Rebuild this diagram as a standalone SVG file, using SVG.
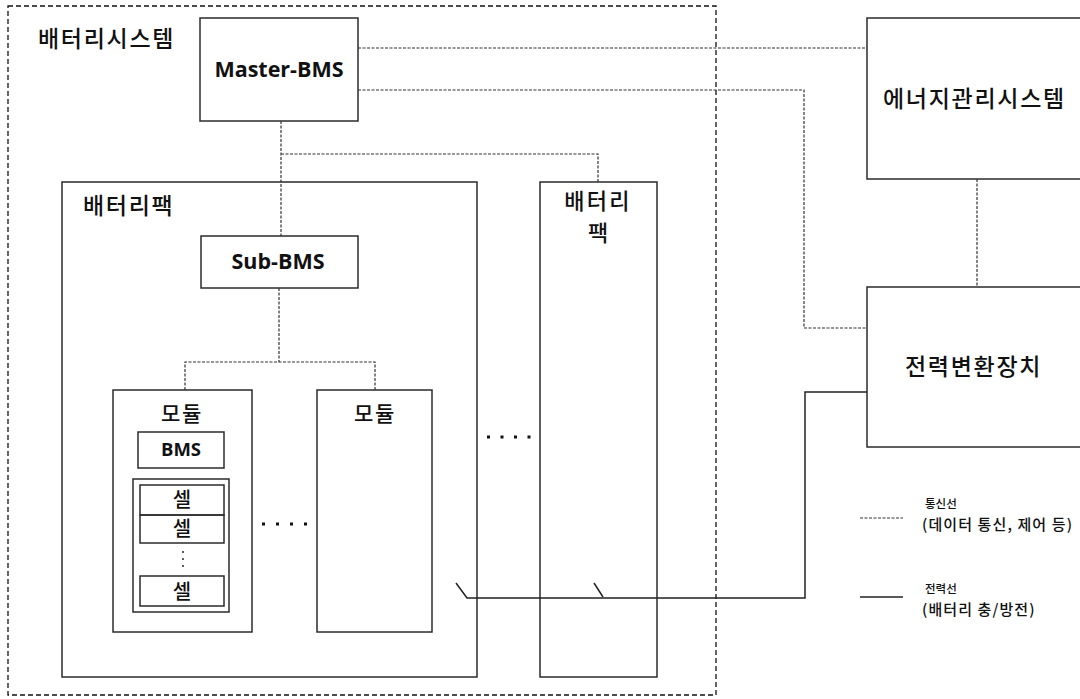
<svg xmlns="http://www.w3.org/2000/svg" width="1080" height="699" viewBox="0 0 1080 699">
<style>
.box{fill:none;stroke:#2b2b2b;stroke-width:1.5}
.outer{fill:none;stroke:#111;stroke-width:1.3;stroke-dasharray:5 3}
.comm{fill:none;stroke:#333;stroke-width:1.2;stroke-dasharray:3 1.5}
.pow{fill:none;stroke:#222;stroke-width:1.5}
.kr{font-family:"Noto Sans CJK KR","Noto Sans",sans-serif;font-weight:500;fill:#111;dominant-baseline:central}
.lbl{font-size:23px;letter-spacing:1.7px}
.en{font-family:"Open Sans","Noto Sans",sans-serif;font-weight:700;fill:#111;text-anchor:middle}
.lg1{font-size:11.5px}
.lg2{font-size:15px;letter-spacing:1.1px}
.dot{fill:#111}
</style>
<rect width="1080" height="699" fill="#fff"/>
<g id="battery-system">
<rect class="outer" x="8" y="6" width="708" height="689"/>
<text class="kr lbl" x="38" y="36.5">배터리시스템</text>
</g>
<g id="master-bms">
<rect class="box" x="200" y="18" width="158" height="103"/>
<text class="en" x="279" y="77" font-size="21.5">Master-BMS</text>
</g>
<g id="ems">
<rect class="box" x="867" y="18" width="225" height="161"/>
<text class="kr lbl" x="883" y="97">에너지관리시스템</text>
</g>
<g id="pcs">
<rect class="box" x="867" y="287" width="225" height="160"/>
<text class="kr lbl" x="905" y="365">전력변환장치</text>
</g>
<g id="battery-pack-1">
<rect class="box" x="62" y="182" width="415" height="495"/>
<text class="kr lbl" x="83" y="204">배터리팩</text>
</g>
<g id="sub-bms">
<rect class="box" x="201" y="236" width="157" height="52"/>
<text class="en" x="278" y="269" font-size="21.5">Sub-BMS</text>
</g>
<g id="module-1">
<rect class="box" x="113" y="390" width="139" height="242"/>
<text class="kr" x="182" y="412" font-size="21" letter-spacing="1.6" text-anchor="middle">모듈</text>
</g>
<g id="module-bms">
<rect class="box" x="138" y="432" width="86" height="36"/>
<text class="en" x="181" y="456" font-size="18.5">BMS</text>
</g>
<g id="cells">
<rect class="box" x="133" y="479" width="96" height="133"/>
<rect class="box" x="140" y="485" width="84" height="30"/>
<rect class="box" x="140" y="515" width="84" height="28"/>
<rect class="box" x="140" y="576" width="84" height="30"/>
<text class="kr" x="182" y="498" font-size="20" text-anchor="middle">셀</text>
<text class="kr" x="182" y="527" font-size="20" text-anchor="middle">셀</text>
<text class="kr" x="182" y="590" font-size="20" text-anchor="middle">셀</text>
<circle class="dot" cx="183" cy="552" r="0.9"/>
<circle class="dot" cx="183" cy="559" r="0.9"/>
<circle class="dot" cx="183" cy="566" r="0.9"/>
</g>
<g id="module-dots">
<rect class="dot" x="262" y="522.5" width="3" height="3"/>
<rect class="dot" x="276" y="522.5" width="3" height="3"/>
<rect class="dot" x="290" y="522.5" width="3" height="3"/>
<rect class="dot" x="304" y="522.5" width="3" height="3"/>
</g>
<g id="module-2">
<rect class="box" x="317" y="390" width="115" height="242"/>
<text class="kr" x="375" y="412" font-size="21" letter-spacing="1.6" text-anchor="middle">모듈</text>
</g>
<g id="pack-dots">
<rect class="dot" x="487" y="435.5" width="3" height="3"/>
<rect class="dot" x="500.5" y="435.5" width="3" height="3"/>
<rect class="dot" x="514" y="435.5" width="3" height="3"/>
<rect class="dot" x="527.5" y="435.5" width="3" height="3"/>
</g>
<g id="battery-pack-2">
<rect class="box" x="540" y="182" width="117" height="495"/>
<text class="kr" x="598" y="199" font-size="22" letter-spacing="2.2" text-anchor="middle">배터리</text>
<text class="kr" x="598" y="231" font-size="22" text-anchor="middle">팩</text>
</g>
<g id="connectors">
<polyline class="comm" points="358,48 867,48"/>
<polyline class="comm" points="358,90 804,90 804,328 867,328"/>
<polyline class="comm" points="281,121 281,236"/>
<polyline class="comm" points="281,154 598,154 598,182"/>
<polyline class="comm" points="279,288 279,362"/>
<polyline class="comm" points="185,390 185,362 375,362 375,390"/>
<polyline class="comm" points="977,179 977,287"/>
<polyline class="pow" points="867,392 805,392 805,598 467,598 456,583"/>
<line class="pow" x1="594" y1="583" x2="603" y2="597"/>
</g>
<g id="legend">
<line class="comm" x1="860" y1="518" x2="903" y2="518"/>
<text class="kr lg1" x="925" y="503">통신선</text>
<text class="kr lg2" x="922" y="523">(데이터 통신, 제어 등)</text>
<line class="pow" x1="860" y1="597" x2="903" y2="597"/>
<text class="kr lg1" x="925" y="588">전력선</text>
<text class="kr lg2" x="922" y="608">(배터리 충/방전)</text>
</g>
</svg>
